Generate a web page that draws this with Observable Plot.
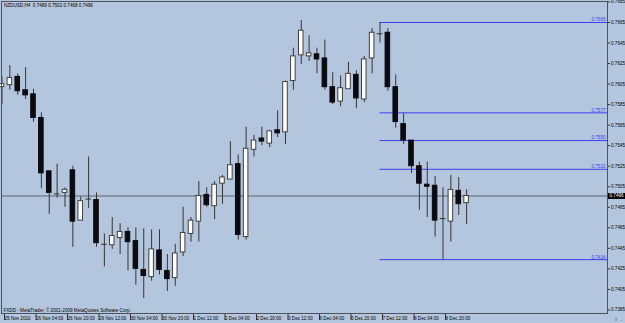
<!DOCTYPE html>
<html><head><meta charset="utf-8">
<script src="https://cdn.jsdelivr.net/npm/d3@7"></script>
<script src="https://cdn.jsdelivr.net/npm/@observablehq/plot@0.6"></script>
<style>html,body{margin:0;padding:0;background:#b4c6de;}svg{display:block}</style>
</head><body><div id="chart"></div>
<script>
const symbol = "NZDUSD,H4";
const footer = "FXDD - MetaTrader, © 2001-2009 MetaQuotes Software Corp.";
const open = [0.7602,0.7604,0.7612,0.7599,0.7595,0.7572,0.7520,0.7498,0.7499,0.7521,
  0.7472,0.7493,0.7492,0.7449,0.7448,0.7455,0.7461,0.7452,0.7424,0.7417,
  0.7443,0.7423,0.7416,0.7441,0.7459,0.7471,0.7497,0.7486,0.7508,0.7512,
  0.7527,0.7456,0.7541,0.7552,0.7547,0.7560,0.7558,0.7608,0.7633,0.7632,
  0.7634,0.7630,0.7602,0.7588,0.7600,0.7614,0.7590,0.7630,0.7654,0.7655,
  0.7602,0.7566,0.7550,0.7525,0.7507,0.7506,0.7474,0.7471,0.7501,0.7489];
const high = [0.7612,0.7623,0.7615,0.7621,0.7600,0.7577,0.7520,0.7527,0.7504,0.7525,
  0.7495,0.7534,0.7499,0.7459,0.7475,0.7469,0.7465,0.7465,0.7464,0.7463,
  0.7463,0.7439,0.7449,0.7485,0.7475,0.7510,0.7504,0.7510,0.7516,0.7549,
  0.7536,0.7563,0.7555,0.7563,0.7560,0.7579,0.7608,0.7640,0.7667,0.7652,
  0.7640,0.7648,0.7616,0.7613,0.7626,0.7618,0.7632,0.7659,0.7665,0.7659,
  0.7614,0.7576,0.7550,0.7529,0.7529,0.7515,0.7504,0.7516,0.7514,0.7502];
const low = [0.7585,0.7599,0.7594,0.7590,0.7568,0.7503,0.7478,0.7494,0.7485,0.7446,
  0.7472,0.7484,0.7446,0.7427,0.7444,0.7439,0.7423,0.7409,0.7396,0.7413,
  0.7419,0.7403,0.7408,0.7437,0.7451,0.7451,0.7485,0.7473,0.7488,0.7512,
  0.7453,0.7453,0.7534,0.7545,0.7543,0.7553,0.7546,0.7599,0.7624,0.7627,
  0.7615,0.7599,0.7585,0.7583,0.7600,0.7581,0.7587,0.7615,0.7645,0.7598,
  0.7562,0.7546,0.7518,0.7482,0.7475,0.7456,0.7434,0.7451,0.7477,0.7468];
const close = [0.7605,0.7611,0.7598,0.7594,0.7572,0.7518,0.7499,0.7498,0.7502,0.7471,
  0.7491,0.7493,0.7450,0.7449,0.7457,0.7461,0.7451,0.7425,0.7418,0.7444,
  0.7424,0.7415,0.7440,0.7460,0.7472,0.7496,0.7487,0.7507,0.7514,0.7526,
  0.7458,0.7542,0.7550,0.7549,0.7559,0.7557,0.7607,0.7632,0.7657,0.7635,
  0.7629,0.7602,0.7587,0.7601,0.7615,0.7591,0.7629,0.7655,0.7654,0.7602,
  0.7568,0.7550,0.7525,0.7508,0.7505,0.7472,0.7474,0.7502,0.7488,0.7496];
const timeLabels = ["25 Nov 2010","26 Nov 04:00","26 Nov 20:00","29 Nov 12:00","30 Nov 04:00",
  "30 Nov 20:00","1 Dec 12:00","2 Dec 04:00","2 Dec 20:00","3 Dec 12:00","6 Dec 04:00",
  "6 Dec 20:00","7 Dec 12:00","8 Dec 04:00","8 Dec 20:00"];
const labelEvery = 4;
const yTicks = [0.7685,0.7665,0.7645,0.7625,0.7605,0.7585,0.7565,0.7545,0.7525,0.7505,
  0.7485,0.7465,0.7445,0.7425,0.7405,0.7385];
const fibLevels = [0.7665,0.7577,0.7550,0.7522,0.7434];

const bars = open.map((o, i) => ({i, open: o, high: high[i], low: low[i], close: close[i]}));
const bodies = bars.filter(d => d.open !== d.close);
const dojis = bars.filter(d => d.open === d.close);
const last = bars[bars.length - 1];
const fibStart = high.lastIndexOf(fibLevels[0]);
const xDomain = [-0.0635, 76.89];
const xEnd = xDomain[1];
const tickBars = timeLabels.map((_, k) => k * labelEvery);
const f4 = d => d.toFixed(4);
const title = `${symbol}  ${f4(last.open)} ${f4(last.high)} ${f4(last.low)} ${f4(last.close)}`;
const blue = "#3d3df2";

const chart = Plot.plot({
  width: 625, height: 323,
  marginTop: 1, marginRight: 18, marginBottom: 10, marginLeft: 1,
  style: {background: "#b4c6de", fontFamily: "'Liberation Sans', Arial, sans-serif", fontSize: "4.6px", color: "#000"},
  x: {domain: xDomain},
  y: {domain: [0.738153, 0.768545]},
  marks: [
    Plot.ruleY([last.close], {stroke: "#5c6370", strokeWidth: 1}),
    Plot.ruleY(fibLevels, {y: d => d, x1: fibStart, x2: xEnd, stroke: blue, strokeWidth: 1}),
    Plot.ruleX(bars, {x: "i", y1: "low", y2: "high", stroke: "#353535", strokeWidth: 1}),
    Plot.rect(bodies, {x1: d => d.i - 0.29, x2: d => d.i + 0.29, y1: "open", y2: "close",
      fill: d => d.close > d.open ? "#ffffff" : "#0a0a10",
      stroke: d => d.close > d.open ? "#404040" : "#0a0a10", strokeWidth: 1}),
    Plot.ruleY(dojis, {y: "close", x1: d => d.i - 0.35, x2: d => d.i + 0.35, stroke: "#303030", strokeWidth: 1}),
    Plot.text(fibLevels, {x: xEnd, y: d => d, text: f4, textAnchor: "end", dx: -2, dy: -2.6, fill: blue}),
    Plot.axisY({anchor: "right", ticks: yTicks, tickFormat: f4, tickSize: 2, tickPadding: 1.5, stroke: "#333"}),
    Plot.axisX({anchor: "bottom", ticks: tickBars, tickFormat: d => timeLabels[d / labelEvery],
      tickSize: 7, tickPadding: -3.5, textAnchor: "start", dx: 2.5, stroke: "#333"}),
    Plot.ruleY([last.close], {x1: xEnd, x2: xEnd + 2.4, stroke: "#000", strokeWidth: 6}),
    Plot.text([last.close], {x: xEnd, y: d => d, text: f4, textAnchor: "start", dx: 2, fill: "#fff"}),
    Plot.frame({stroke: "#4d525c"}),
    Plot.text([title], {frameAnchor: "top-left", dx: 2.5, dy: 2.3, lineAnchor: "top", textAnchor: "start"}),
    Plot.text([footer], {frameAnchor: "bottom-left", dx: 2, dy: -1.5, lineAnchor: "bottom", textAnchor: "start"})
  ]
});
document.getElementById("chart").appendChild(chart);
</script>
</body></html>
